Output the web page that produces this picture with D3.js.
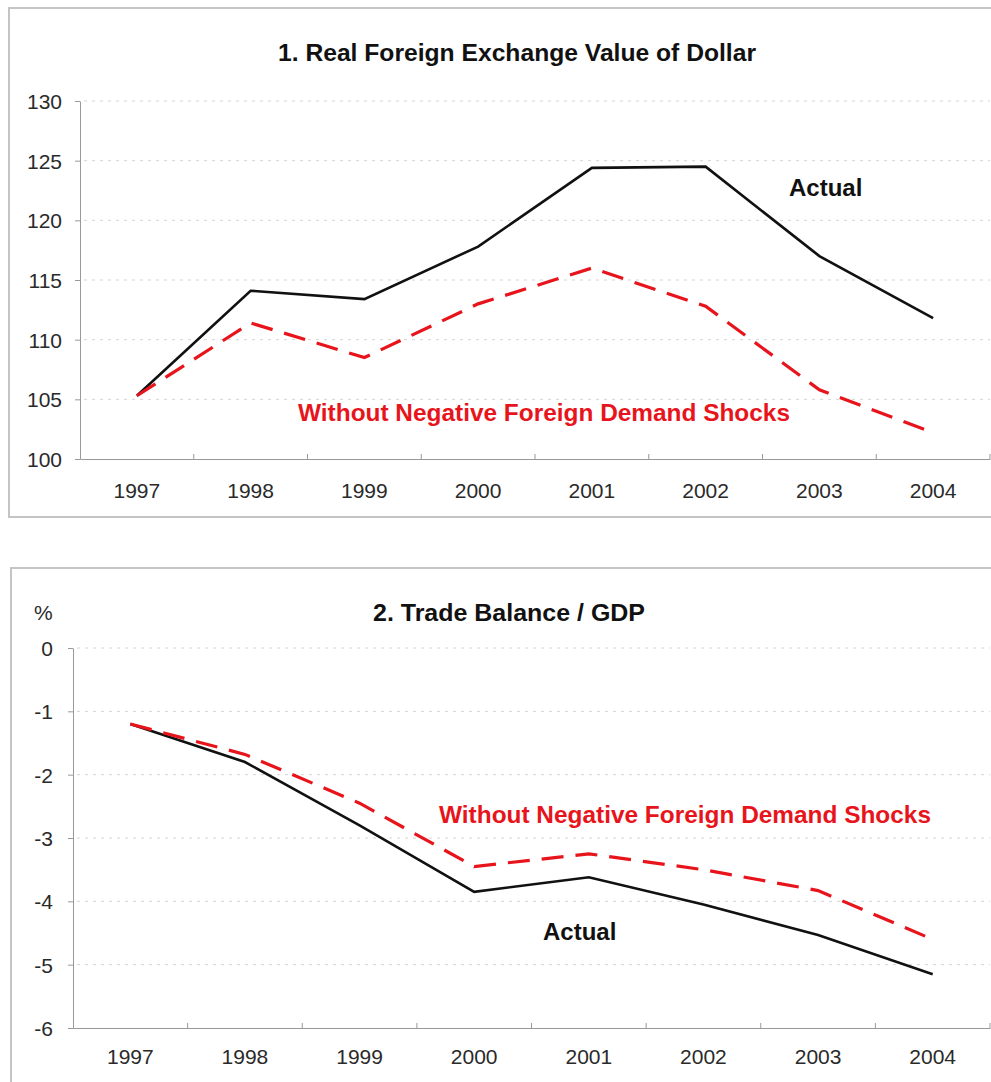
<!DOCTYPE html>
<meta charset="utf-8">
<style>
  body { margin: 0; background: #fff; }
  svg { font-family: Arial, "Liberation Sans", sans-serif; }
  .grid line { stroke: #d4d4d4; stroke-dasharray: 3,5; }
  .axis path, .axis line { stroke: #999; }
  .axis text { font-size: 21px; fill: #2a2a2a; }
  .line { fill: none; }
</style>
<body>
<script src="https://cdn.jsdelivr.net/npm/d3@7"></script>
<script>
// data
var years = ["1997", "1998", "1999", "2000", "2001", "2002", "2003", "2004"];

var dollarActual  = [105.3, 114.1, 113.4, 117.8, 124.4, 124.5, 117.0, 111.8];
var dollarWithout = [105.3, 111.4, 108.5, 113.0, 116.0, 112.8, 105.8, 102.2];
var dollarTicks   = [100, 105, 110, 115, 120, 125, 130];

var tradeActual  = [-1.2, -1.8, -2.8, -3.85, -3.62, -4.05, -4.53, -5.15];
var tradeWithout = [-1.2, -1.68, -2.45, -3.45, -3.25, -3.5, -3.83, -4.6];
var tradeTicks   = [0, -1, -2, -3, -4, -5, -6];

var svg = d3.select("body").append("svg")
    .attr("width", 991)
    .attr("height", 1082);

function panel(opt) {
  var g = svg.append("g");

  // outer frame
  g.append("rect")
      .attr("x", opt.frame[0]).attr("y", opt.frame[1])
      .attr("width", opt.frame[2]).attr("height", opt.frame[3])
      .attr("fill", "none").attr("stroke", "#c4c4c4").attr("stroke-width", 2);

  var x = d3.scaleBand().domain(years).range([opt.left, 990]);
  var y = d3.scaleLinear().domain(opt.domain).range([opt.bottom, opt.top]);

  // dotted gridlines
  g.append("g").attr("class", "grid")
    .selectAll("line")
    .data(opt.ticks.filter(function (d) { return d !== opt.domain[0]; }))
    .enter().append("line")
      .attr("x1", opt.left + 4).attr("x2", 990)
      .attr("y1", function (d) { return y(d); })
      .attr("y2", function (d) { return y(d); });

  // y axis (plain hyphen for negatives, like the original)
  var ya = g.append("g").attr("class", "axis")
      .attr("transform", "translate(" + opt.left + ",0)")
      .call(d3.axisLeft(y).tickValues(opt.ticks).tickSize(5).tickPadding(opt.ypad)
        .tickSizeOuter(0).tickFormat(function (d) { return String(d); }));
  ya.selectAll("text").attr("dy", "0.35em");

  // x axis, ticks between categories pointing up
  var xa = g.append("g").attr("class", "axis")
      .attr("transform", "translate(0," + opt.bottom + ")")
      .call(d3.axisBottom(x).tickSize(0).tickPadding(opt.xpad).tickSizeOuter(0));
  xa.select(".domain").attr("stroke", "#999");
  xa.selectAll(".sep")
    .data(years)
    .enter().append("line")
      .attr("stroke", "#999")
      .attr("x1", function (d) { return x(d) + x.bandwidth(); })
      .attr("x2", function (d) { return x(d) + x.bandwidth(); })
      .attr("y1", 0).attr("y2", -5);

  var line = function (vals) {
    return d3.line()
      .x(function (d, i) { return x(years[i]) + x.bandwidth() / 2; })
      .y(function (d) { return y(d); })(vals);
  };

  g.append("path")
      .attr("class", "line")
      .attr("stroke", "#111")
      .attr("stroke-width", 2.6)
      .attr("d", line(opt.actual));

  g.append("path")
      .attr("class", "line")
      .attr("stroke", "#e8141c")
      .attr("stroke-width", 3.2)
      .attr("stroke-dasharray", "22,12")
      .attr("d", line(opt.without));

  g.append("text")
      .attr("x", opt.titleX).attr("y", opt.titleY)
      .attr("text-anchor", "middle")
      .attr("font-size", 23).attr("font-weight", "bold").attr("fill", "#111")
      .attr("textLength", opt.titleW).attr("lengthAdjust", "spacingAndGlyphs")
      .text(opt.title);

  g.append("text")
      .attr("x", opt.actualLbl[0]).attr("y", opt.actualLbl[1])
      .attr("font-size", 24).attr("font-weight", "bold").attr("fill", "#111")
      .text("Actual");

  g.append("text")
      .attr("x", opt.redLbl[0]).attr("y", opt.redLbl[1])
      .attr("font-size", 24).attr("font-weight", "bold").attr("fill", "#e8141c")
      .attr("textLength", opt.redW).attr("lengthAdjust", "spacingAndGlyphs")
      .text("Without Negative Foreign Demand Shocks");

  return g;
}

panel({
  frame: [9, 8, 990, 509],
  left: 80, top: 101, bottom: 459,
  domain: [100, 130], ticks: dollarTicks, ypad: 13, xpad: 24,
  actual: dollarActual, without: dollarWithout,
  title: "1. Real Foreign Exchange Value of Dollar", titleX: 517, titleY: 61, titleW: 478,
  actualLbl: [789, 196], redLbl: [298, 421], redW: 492
});

var p2 = panel({
  frame: [11, 568, 990, 520],
  left: 73, top: 648, bottom: 1028,
  domain: [-6, 0], ticks: tradeTicks, ypad: 15, xpad: 21,
  actual: tradeActual, without: tradeWithout,
  title: "2. Trade Balance / GDP", titleX: 509, titleY: 621, titleW: 272,
  actualLbl: [543, 940], redLbl: [439, 823], redW: 492
});

p2.append("text")
    .attr("x", 34).attr("y", 620)
    .attr("font-size", 21).attr("fill", "#2a2a2a")
    .text("%");
</script>
</body>
